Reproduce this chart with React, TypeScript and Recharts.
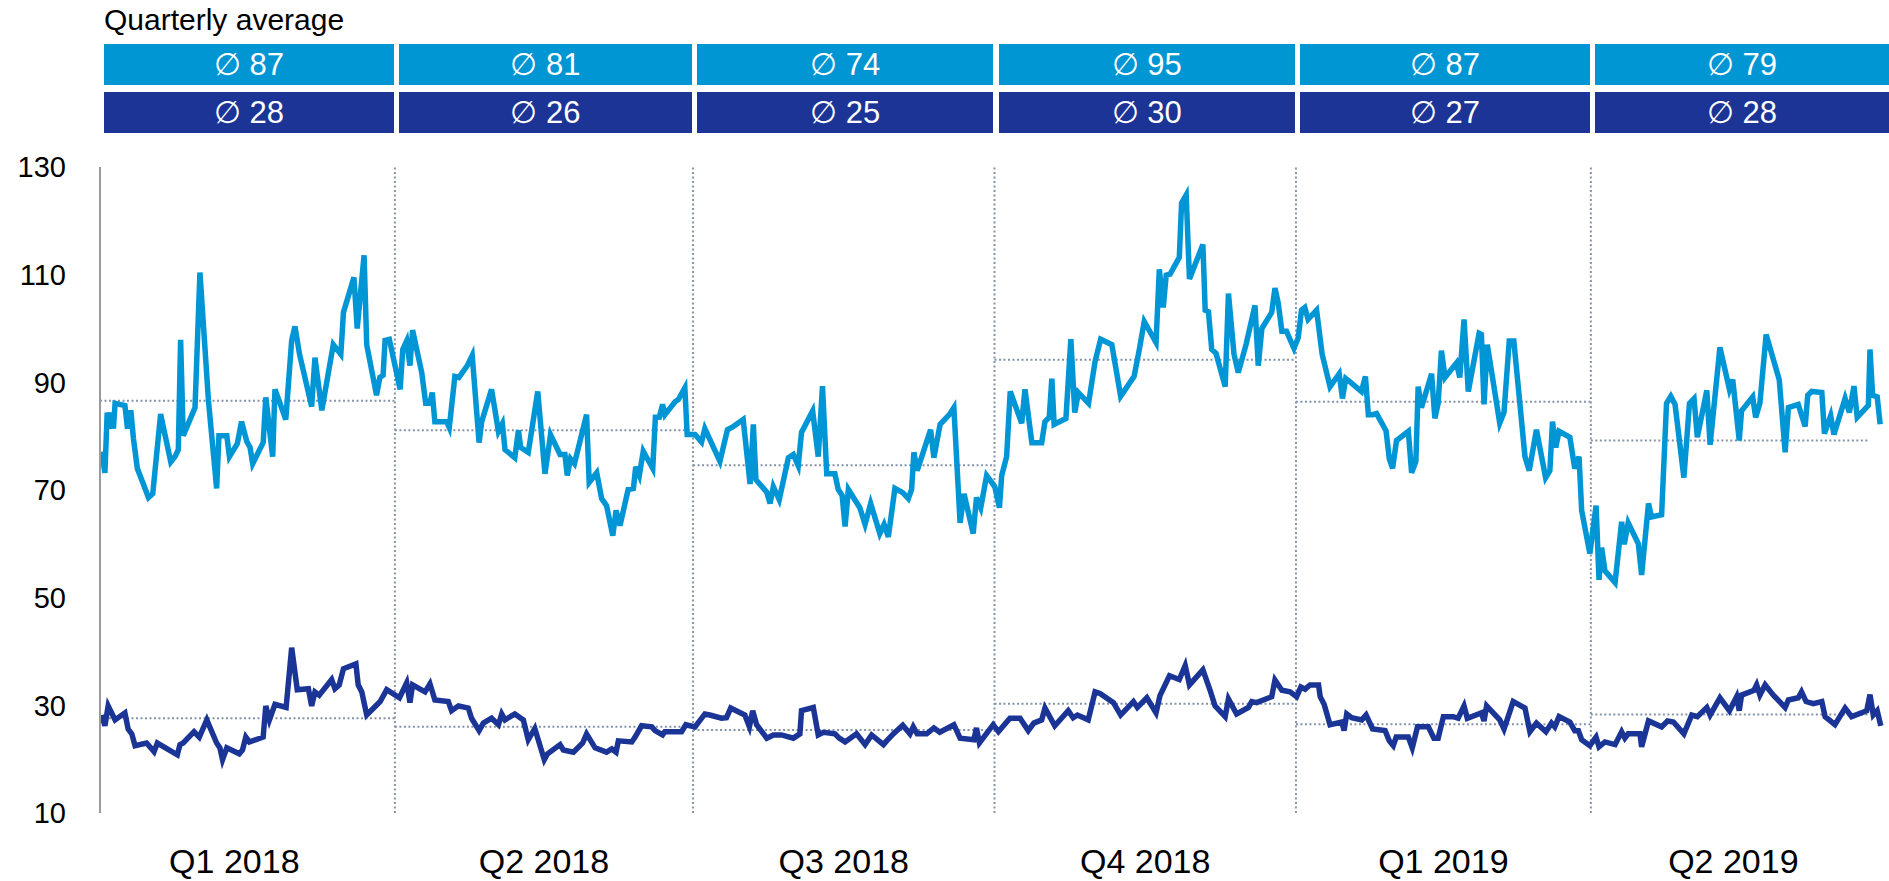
import { LineChart, Line, XAxis, YAxis, ReferenceLine } from 'recharts'

// days counted from 1 Jan 2018
const quarterBounds = [0, 90, 181, 273, 365, 455, 546]
const quarterLabels = ['Q1 2018', 'Q2 2018', 'Q3 2018', 'Q4 2018', 'Q1 2019', 'Q2 2019']
const quarterLabelDays = [41, 135.5, 227, 319, 410, 498.5]
const yTicks = [10, 30, 50, 70, 90, 110, 130]

const lightAvgLabels = ['87', '81', '74', '95', '87', '79']
const darkAvgLabels = ['28', '26', '25', '30', '27', '28']
const lightAvg = [86.6, 81.1, 74.6, 94.2, 86.4, 79.2]
const darkAvg = [27.6, 26.0, 25.4, 30.3, 26.5, 28.3]
const lastAvgEnd = 540

const lightDays = [
  0.5, 1.5, 2.2, 3.1, 3.6, 4.1, 4.6, 7.6, 8.4, 9.4, 10.2, 11.4, 14.8, 16.1, 18.5, 21.6, 22.9, 23.9, 24.6, 25.4,
  29.0, 30.5, 33.1, 35.6, 36.3, 38.7, 39.5, 41.9, 43.2, 44.8, 45.8, 46.6, 49.8, 50.6, 52.7, 53.4, 56.7, 58.5, 59.5, 60.9,
  64.6, 65.6, 67.7, 71.2, 73.5, 74.3, 77.5, 78.5, 80.6, 81.4, 84.4, 85.4, 86.4, 87.0, 88.3, 91.6, 92.4, 93.6, 94.6, 95.4,
  98.2, 99.4, 100.7, 101.4, 102.2, 105.8, 106.6, 108.3, 109.5, 112.1, 113.6, 115.7, 116.5, 119.5, 121.6, 122.8, 123.6, 126.6, 127.7, 128.4,
  130.7, 133.6, 135.8, 137.5, 140.4, 141.9, 142.6, 143.6, 144.8, 148.5, 149.3, 151.6, 153.1, 154.6, 156.5, 157.5, 158.7, 161.2, 162.8, 163.5,
  164.6, 165.8, 168.7, 169.5, 170.7, 171.7, 172.4, 175.5, 176.5, 178.5, 179.2, 181.6, 183.6, 184.6, 189.2, 191.5, 193.1, 196.3, 198.4, 199.4,
  200.2, 203.5, 204.5, 205.5, 207.3, 210.1, 211.6, 213.1, 214.1, 217.5, 219.2, 220.5, 221.8, 224.3, 225.3, 226.5, 227.4, 228.4, 231.9, 233.5,
  235.2, 238.0, 239.3, 240.6, 242.6, 245.0, 246.7, 247.7, 248.4, 249.4, 253.5, 254.5, 256.4, 259.2, 260.6, 262.5, 263.7, 266.5, 267.5, 268.8,
  270.6, 273.1, 274.5, 275.2, 276.7, 277.8, 281.3, 282.3, 284.4, 287.4, 288.4, 289.7, 290.5, 291.2, 294.8, 296.3, 297.5, 298.6, 301.7, 303.7,
  305.4, 308.8, 309.8, 311.5, 315.6, 317.2, 318.7, 322.3, 323.3, 324.5, 325.4, 326.6, 329.4, 330.1, 331.5, 332.5, 336.6, 337.3, 338.3, 339.3,
  340.6, 343.4, 344.4, 346.1, 347.4, 349.8, 352.5, 353.5, 354.6, 357.6, 358.6, 359.6, 360.7, 362.1, 364.4, 365.7, 366.7, 367.7, 368.7, 371.3,
  373.0, 375.4, 378.2, 379.2, 380.2, 381.7, 385.0, 386.2, 387.1, 388.4, 389.6, 392.5, 393.5, 394.5, 395.7, 399.3, 400.3, 401.6, 402.3, 403.3,
  406.4, 407.4, 408.4, 409.4, 410.5, 414.0, 415.0, 416.3, 417.6, 420.9, 421.6, 422.4, 423.4, 427.2, 428.5, 430.1, 431.5, 434.9, 436.2, 438.4,
  441.2, 442.5, 443.3, 444.3, 445.3, 448.6, 450.1, 451.4, 452.2, 454.7, 456.6, 457.5, 458.3, 459.3, 462.4, 464.4, 465.2, 466.4, 469.5, 470.5,
  472.6, 473.5, 476.6, 478.1, 479.4, 480.7, 483.4, 485.1, 486.5, 487.5, 490.4, 491.4, 494.4, 497.3, 498.3, 500.3, 501.0, 504.4, 505.3, 506.6,
  508.5, 512.5, 514.3, 515.3, 518.3, 520.4, 521.2, 522.4, 525.5, 526.3, 528.2, 529.2, 532.6, 533.9, 535.3, 536.3, 539.7, 540.2, 541.0, 542.4,
  543.3,
]
const lightValues = [
  77.1, 73.2, 84.4, 81.4, 84.4, 81.4, 86.1, 85.7, 81.4, 84.8, 79.6, 74.0, 68.6, 69.3, 84.1, 75.2, 76.2, 77.5, 97.9, 80.1,
  85.3, 110.4, 86.6, 70.3, 80.1, 80.1, 76.2, 78.6, 82.7, 79.0, 77.9, 74.9, 78.8, 87.2, 76.2, 88.7, 83.1, 97.8, 100.4, 95.2,
  85.5, 94.6, 84.8, 97.0, 95.2, 103.0, 109.5, 100.0, 113.6, 97.0, 87.6, 90.9, 91.3, 97.8, 98.0, 88.7, 96.1, 97.7, 93.1, 99.7,
  91.8, 86.1, 86.1, 88.1, 82.7, 82.7, 81.6, 91.1, 90.9, 93.1, 95.0, 78.8, 82.7, 88.7, 80.9, 82.3, 77.5, 76.0, 81.1, 77.9,
  77.0, 88.3, 73.0, 80.3, 76.6, 76.6, 72.7, 75.8, 74.9, 84.0, 71.4, 73.2, 68.4, 67.1, 61.5, 66.2, 63.4, 70.1, 70.3, 74.3,
  72.7, 77.2, 74.0, 83.5, 83.5, 85.9, 84.0, 86.4, 86.8, 89.0, 80.3, 80.3, 78.9, 81.4, 75.3, 81.2, 81.7, 83.1, 71.1, 82.2,
  71.9, 69.6, 67.5, 70.6, 68.2, 76.0, 76.6, 74.5, 80.7, 84.7, 76.2, 89.3, 73.0, 73.0, 70.1, 69.0, 63.2, 70.1, 66.7, 63.6,
  67.5, 61.9, 63.6, 61.3, 70.3, 69.5, 68.4, 70.1, 77.0, 73.6, 81.2, 76.0, 82.2, 84.0, 85.3, 63.9, 69.3, 61.9, 68.6, 66.7,
  72.7, 70.6, 66.7, 72.7, 76.2, 88.3, 82.4, 88.7, 78.8, 78.8, 82.7, 83.5, 90.7, 82.2, 83.3, 98.0, 84.4, 88.1, 86.1, 93.9,
  98.0, 97.0, 93.5, 87.4, 91.1, 96.1, 101.3, 97.4, 111.0, 103.9, 109.9, 110.1, 113.2, 123.3, 124.8, 109.2, 115.6, 103.4, 103.1, 96.1,
  95.4, 89.2, 106.5, 95.2, 91.8, 97.1, 104.3, 93.1, 100.0, 103.0, 107.5, 104.7, 99.5, 99.5, 96.3, 98.3, 103.4, 103.9, 101.7, 103.4,
  95.2, 89.2, 91.6, 87.0, 90.7, 90.0, 88.3, 91.1, 84.0, 84.0, 84.2, 81.0, 75.8, 74.0, 79.2, 80.9, 73.2, 75.3, 89.2, 85.3,
  91.6, 83.3, 86.1, 95.9, 90.9, 93.6, 90.9, 101.7, 88.3, 99.1, 98.9, 85.9, 97.0, 82.4, 84.4, 97.7, 97.7, 76.2, 73.6, 81.2,
  72.3, 73.6, 82.7, 77.9, 80.9, 79.8, 74.0, 76.2, 66.2, 58.2, 67.1, 53.3, 59.3, 55.0, 52.8, 64.1, 59.9, 63.9, 60.0, 54.2,
  67.5, 65.0, 65.4, 86.1, 87.4, 85.9, 72.3, 86.1, 87.0, 79.8, 88.5, 78.4, 96.5, 88.7, 90.5, 79.2, 84.7, 87.3, 83.5, 86.1,
  98.9, 90.5, 77.0, 85.3, 85.9, 81.8, 87.6, 88.3, 88.1, 80.5, 83.8, 80.3, 87.0, 84.4, 89.3, 83.5, 85.7, 96.1, 87.6, 87.3,
  82.2,
]

const darkDays = [
  0.5, 1.5, 2.5, 4.6, 7.6, 8.6, 9.7, 10.7, 14.2, 16.5, 17.5, 23.6, 24.4, 25.4, 28.7, 30.3, 32.6, 35.6, 36.6, 37.4,
  38.7, 42.5, 43.5, 44.5, 45.6, 49.8, 50.6, 51.7, 53.4, 56.8, 58.5, 60.2, 63.6, 64.6, 65.6, 66.9, 70.7, 71.7, 73.0, 74.3,
  78.1, 78.8, 79.9, 81.4, 85.5, 87.5, 91.4, 93.6, 94.6, 95.4, 99.2, 100.7, 102.2, 106.3, 107.3, 109.4, 112.4, 113.4, 115.7, 117.0,
  119.5, 121.6, 122.6, 123.6, 126.6, 129.2, 130.7, 132.7, 135.6, 136.6, 140.4, 141.4, 144.5, 147.3, 148.5, 151.1, 154.6, 156.2, 157.5, 158.2,
  162.3, 163.3, 165.3, 168.4, 169.4, 171.7, 172.4, 177.5, 178.8, 181.6, 184.6, 186.1, 189.7, 191.2, 192.5, 196.8, 198.2, 199.2, 200.4, 203.5,
  205.5, 208.0, 211.6, 213.6, 214.1, 217.7, 219.2, 220.8, 224.3, 225.6, 227.4, 230.9, 233.5, 235.5, 239.1, 240.1, 242.1, 245.0, 247.2, 248.2,
  249.4, 252.3, 254.5, 256.3, 260.6, 262.5, 266.7, 267.5, 268.4, 272.6, 274.2, 277.7, 280.8, 283.3, 285.0, 287.4, 288.4, 291.4, 295.5, 297.0,
  298.3, 301.6, 303.7, 305.2, 309.3, 311.5, 315.4, 316.6, 319.5, 322.3, 323.5, 326.4, 329.4, 331.2, 332.5, 336.6, 338.8, 340.3, 343.4, 344.4,
  346.9, 350.5, 351.5, 353.0, 357.6, 358.6, 360.7, 363.2, 365.2, 366.5, 367.8, 369.3, 371.9, 372.4, 373.6, 375.4, 379.0, 379.7, 380.5, 382.0,
  385.1, 386.4, 388.4, 392.2, 393.5, 394.7, 395.6, 399.3, 400.5, 402.1, 405.4, 407.1, 408.4, 410.0, 413.0, 414.5, 416.3, 417.3, 421.6, 422.4,
  423.2, 427.2, 428.5, 431.3, 434.9, 436.4, 438.4, 441.3, 443.0, 444.0, 445.3, 448.6, 450.1, 451.2, 452.2, 454.7, 456.6, 457.5, 459.3, 462.4,
  464.4, 465.4, 466.4, 470.0, 470.5, 472.6, 476.6, 478.4, 480.2, 483.4, 485.8, 487.5, 490.4, 491.4, 494.4, 497.3, 499.5, 500.3, 501.0, 504.8,
  505.6, 506.6, 508.2, 510.7, 514.3, 515.3, 518.3, 519.3, 520.7, 522.9, 525.5, 526.5, 529.5, 532.6, 534.6, 539.2, 540.2, 541.2, 542.4, 543.5,
]
const darkValues = [
  28.2, 26.2, 29.9, 27.3, 28.6, 25.6, 24.7, 22.5, 23.0, 21.4, 23.0, 20.8, 22.7, 23.0, 25.1, 24.1, 27.3, 23.0, 22.1, 19.9,
  22.1, 21.0, 21.7, 24.1, 23.2, 24.1, 29.9, 27.3, 30.2, 29.6, 40.7, 32.9, 33.1, 29.9, 32.5, 31.9, 34.8, 33.1, 33.8, 36.8,
  37.7, 33.8, 32.5, 28.2, 30.7, 32.9, 31.4, 34.2, 30.5, 33.8, 32.5, 34.0, 31.0, 30.7, 29.0, 29.9, 29.5, 27.6, 25.3, 26.7,
  27.6, 26.4, 28.4, 27.3, 28.4, 27.3, 23.6, 25.7, 19.9, 21.0, 22.7, 21.7, 21.3, 23.0, 24.7, 22.1, 21.3, 21.9, 21.3, 23.4,
  23.2, 24.1, 26.2, 26.0, 25.3, 24.5, 25.1, 25.1, 26.4, 26.0, 28.4, 28.2, 27.6, 27.7, 29.5, 28.2, 26.0, 29.0, 26.4, 23.9,
  24.5, 24.5, 23.9, 24.7, 29.0, 29.6, 24.5, 25.0, 24.7, 23.9, 23.2, 24.7, 22.7, 24.5, 22.7, 23.4, 24.7, 26.3, 24.7, 26.0,
  24.7, 24.7, 25.8, 25.0, 26.4, 23.9, 23.6, 25.8, 23.0, 26.4, 25.1, 27.6, 27.6, 25.3, 26.7, 27.3, 29.5, 26.2, 29.0, 27.7,
  28.2, 27.3, 32.5, 32.2, 30.5, 28.2, 30.7, 29.6, 31.4, 28.6, 31.8, 35.5, 34.8, 37.4, 33.8, 36.6, 32.8, 29.9, 27.9, 31.2,
  28.4, 29.6, 30.7, 30.5, 31.6, 34.7, 32.8, 32.5, 31.6, 33.4, 33.0, 33.8, 33.8, 31.6, 30.2, 26.4, 26.9, 25.3, 28.4, 27.7,
  27.3, 28.2, 25.6, 25.3, 23.4, 22.5, 24.1, 24.1, 22.1, 26.0, 26.0, 23.9, 23.9, 27.9, 27.9, 27.6, 29.9, 27.6, 28.6, 27.1,
  29.9, 27.3, 25.6, 30.7, 29.5, 25.1, 26.7, 25.1, 26.7, 26.0, 27.9, 26.9, 25.3, 25.3, 23.6, 22.5, 24.1, 22.3, 23.2, 22.7,
  25.1, 23.9, 24.7, 24.7, 22.3, 27.1, 26.0, 27.1, 26.9, 24.7, 28.2, 27.9, 29.6, 28.2, 31.4, 29.0, 31.6, 29.0, 31.9, 32.8,
  33.8, 31.9, 33.8, 31.9, 29.6, 31.0, 31.4, 32.5, 30.7, 30.3, 30.7, 27.9, 26.4, 29.5, 27.9, 29.0, 32.0, 28.2, 29.0, 26.2,
]

const W = 1889
const H = 881
const PLOT_LEFT = 100
const PLOT_TOP = 167
const AXIS_H = 68
const DAY_MAX = 546
const LIGHT = '#0096d6'
const DARK = '#1b3596'
const DOT = '#8494aa'
const FONT = '"Liberation Sans", Arial, sans-serif'

const lightData = lightDays.map((day, i) => ({ day, value: lightValues[i] }))
const darkData = darkDays.map((day, i) => ({ day, value: darkValues[i] }))

const px = (d: number) => PLOT_LEFT + (d / DAY_MAX) * (W - PLOT_LEFT)

function AvgBoxes({ labels, color, top }: { labels: string[]; color: string; top: number }) {
  return (
    <>
      {labels.map((label, i) => {
        const left = px(quarterBounds[i]) + 4
        const right = i === labels.length - 1 ? W : px(quarterBounds[i + 1]) - 1
        return (
          <div
            key={i}
            style={{
              position: 'absolute',
              left,
              top,
              width: right - left,
              height: 41,
              background: color,
              color: '#fff',
              fontFamily: FONT,
              fontSize: 31,
              lineHeight: '41px',
              textAlign: 'center',
            }}
          >
            {'\u2205 ' + label}
          </div>
        )
      })}
    </>
  )
}

export default function App() {
  return (
    <div style={{ position: 'absolute', left: 0, top: 0, width: W, height: H, background: '#fff' }}>
      <LineChart width={W} height={H} margin={{ top: PLOT_TOP, right: 0, bottom: 0, left: 0 }}>
        <XAxis
          type="number"
          dataKey="day"
          domain={[0, DAY_MAX]}
          allowDataOverflow
          ticks={quarterLabelDays}
          interval={0}
          tickFormatter={(_v: number, i: number) => quarterLabels[i]}
          axisLine={false}
          tickLine={false}
          tickMargin={30}
          height={AXIS_H}
          tick={{ fontSize: 34, fill: '#000', fontFamily: FONT }}
        />
        <YAxis
          type="number"
          domain={[10, 130]}
          ticks={yTicks}
          interval={0}
          width={PLOT_LEFT}
          axisLine={{ stroke: '#9a9a9a', strokeWidth: 2 }}
          tickLine={false}
          tickMargin={28}
          tick={{ fontSize: 29, fill: '#000', fontFamily: FONT }}
        />
        {quarterBounds.slice(1, -1).map((d) => (
          <ReferenceLine key={'q' + d} x={d} stroke={DOT} strokeWidth={2} strokeDasharray="2 2.5" />
        ))}
        {lightAvg.map((v, i) => (
          <ReferenceLine
            key={'la' + i}
            segment={[
              { x: quarterBounds[i], y: v },
              { x: i === lightAvg.length - 1 ? lastAvgEnd : quarterBounds[i + 1], y: v },
            ]}
            stroke={DOT}
            strokeWidth={2}
            strokeDasharray="2 2.5"
          />
        ))}
        {darkAvg.map((v, i) => (
          <ReferenceLine
            key={'da' + i}
            segment={[
              { x: quarterBounds[i], y: v },
              { x: i === darkAvg.length - 1 ? lastAvgEnd : quarterBounds[i + 1], y: v },
            ]}
            stroke={DOT}
            strokeWidth={2}
            strokeDasharray="2 2.5"
          />
        ))}
        <Line
          data={lightData}
          dataKey="value"
          type="linear"
          stroke={LIGHT}
          strokeWidth={5.5}
          dot={false}
          activeDot={false}
          isAnimationActive={false}
        />
        <Line
          data={darkData}
          dataKey="value"
          type="linear"
          stroke={DARK}
          strokeWidth={5.5}
          dot={false}
          activeDot={false}
          isAnimationActive={false}
        />
      </LineChart>
      <div style={{ position: 'absolute', left: 104, top: 5, fontFamily: FONT, fontSize: 30, lineHeight: '30px', color: '#000' }}>
        Quarterly average
      </div>
      <AvgBoxes labels={lightAvgLabels} color="#0095d3" top={44} />
      <AvgBoxes labels={darkAvgLabels} color="#1b3496" top={92} />
    </div>
  )
}
